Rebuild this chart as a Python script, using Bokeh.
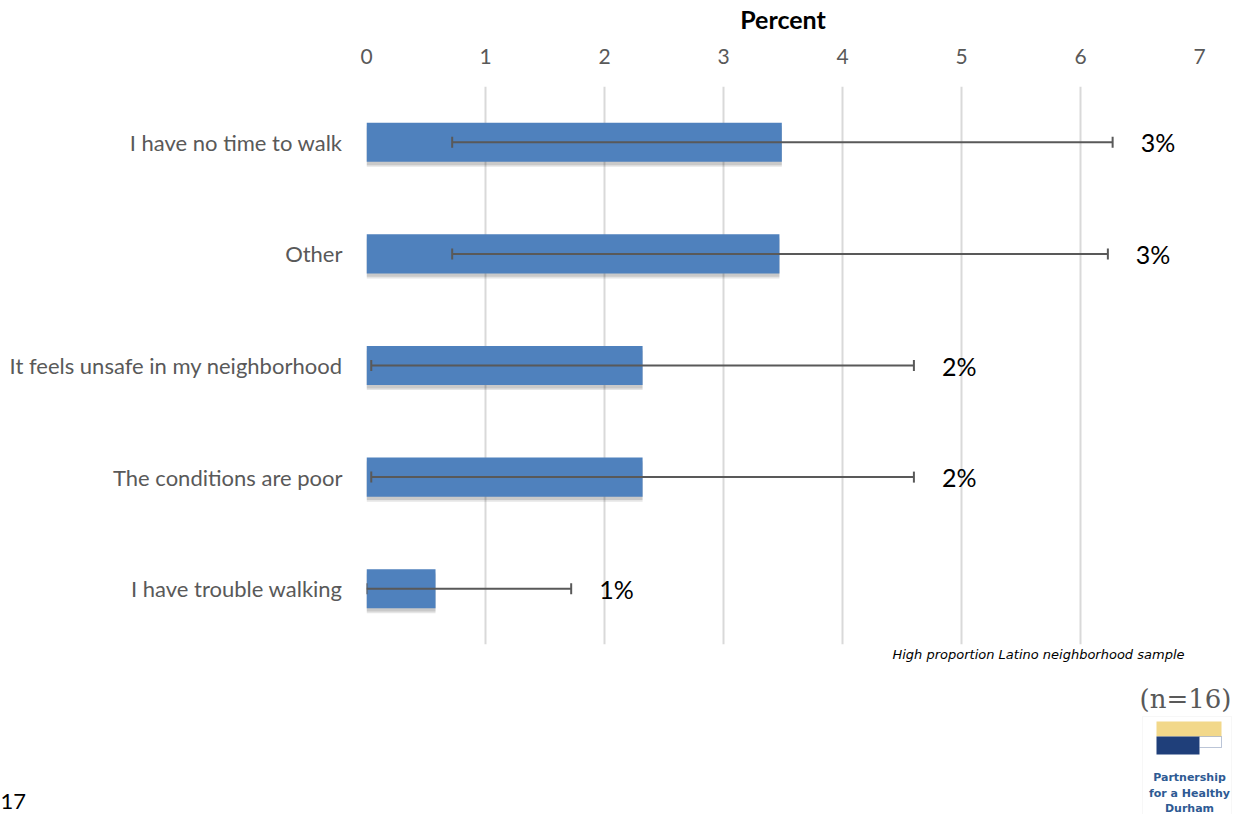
from bokeh.plotting import figure
from bokeh.models import (ColumnDataSource, FactorRange, Range1d, Whisker, TeeHead,
                          Label, BoxAnnotation, FixedTicker)
from bokeh.transform import dodge
from bokeh.core.properties import value
from bokeh.embed import file_html
from bokeh.resources import INLINE

categories = ["I have no time to walk", "Other", "It feels unsafe in my neighborhood",
              "The conditions are poor", "I have trouble walking"]
percent = [3.49, 3.47, 2.32, 2.32, 0.58]
ci_lower = [0.72, 0.72, 0.04, 0.04, 0.0]
ci_upper = [6.27, 6.23, 4.60, 4.60, 1.72]
pct_labels = ["3%", "3%", "2%", "2%", "1%"]
x_ticks = [0, 1, 2, 3, 4, 5, 6, 7]

FONT = "Lato"
GRAY = "#595959"

src = ColumnDataSource(dict(cat=categories, val=percent, lo=ci_lower, hi=ci_upper, lab=pct_labels))

p = figure(width=1232, height=646, output_backend="svg", toolbar_location=None,
           y_range=FactorRange(factors=list(reversed(categories))),
           x_range=Range1d(0, 7), x_axis_location="above",
           min_border_left=366, min_border_right=33, min_border_top=84, min_border_bottom=2)
p.outline_line_color = None
p.background_fill_color = "white"
p.border_fill_color = "white"

# shadow
for dy, a in [(-0.045, 0.10), (-0.03, 0.12)]:
    p.hbar(y=dodge("cat", dy, range=p.y_range), left=0, right="val", height=0.35, source=src,
           fill_color="#000000", fill_alpha=a, line_color=None)
p.hbar(y="cat", left=0, right="val", height=0.35, source=src,
       fill_color="#4F81BD", line_color=None)

w = Whisker(base="cat", lower="lo", upper="hi", dimension="width", source=src,
            line_color=GRAY, line_width=2, level="overlay",
            upper_head=TeeHead(size=11, line_color=GRAY, line_width=2),
            lower_head=TeeHead(size=11, line_color=GRAY, line_width=2))
p.add_layout(w)

p.text(x="hi", y="cat", text="lab", source=src, x_offset=28, text_baseline="middle",
       text_align="left", text_font=value(FONT), text_font_size="25px", text_color="#000000")

# axes
xa = p.xaxis[0]
xa.ticker = FixedTicker(ticks=x_ticks)
xa.axis_label = "Percent"
xa.axis_label_text_font = FONT
xa.axis_label_text_font_style = "bold"
xa.axis_label_text_font_size = "25px"
xa.axis_label_text_color = "#000000"
xa.axis_label_standoff = 12
xa.major_label_text_font = FONT
xa.major_label_text_font_size = "21px"
xa.major_label_text_color = GRAY
xa.major_label_standoff = 23
xa.axis_line_color = None
xa.major_tick_line_color = None
xa.minor_tick_line_color = None
xa.major_tick_out = 0
xa.major_tick_in = 0

ya = p.yaxis[0]
ya.major_label_text_font = FONT
ya.major_label_text_font_size = "22px"
ya.major_label_text_color = GRAY
ya.major_label_standoff = 24
ya.axis_line_color = None
ya.major_tick_line_color = None
ya.minor_tick_line_color = None
ya.major_tick_out = 0
ya.major_tick_in = 0

p.ygrid.grid_line_color = None
p.xgrid.grid_line_color = "#D9D9D9"
p.xgrid.grid_line_width = 2

# footer panel (separate root): notes, sample size, logo, page number
f = figure(width=1232, height=168, output_backend="svg", toolbar_location=None,
           x_range=Range1d(0, 1232), y_range=Range1d(0, 168),
           x_axis_location=None, y_axis_location=None,
           min_border_left=0, min_border_right=0, min_border_top=0, min_border_bottom=0)
f.outline_line_color = None
f.xgrid.grid_line_color = None
f.ygrid.grid_line_color = None
f.background_fill_color = "white"
f.border_fill_color = "white"

def lbl(x, y, text, **kw):
    f.add_layout(Label(x=x, y=y, text=text, text_baseline="middle", **kw))

lbl(1184, 160, "High proportion Latino neighborhood sample", text_align="right",
    text_font="DejaVu Sans", text_font_style="italic", text_font_size="13px", text_color="#000000")
lbl(1231, 116, "(n=16)", text_align="right", text_font="DejaVu Serif",
    text_font_size="26px", text_color=GRAY)
f.add_layout(BoxAnnotation(left=1142, right=1231, top=98, bottom=0, fill_alpha=0,
                           line_color="#E6E6E6", line_width=1))
f.add_layout(BoxAnnotation(left=1156, right=1221, top=93, bottom=78,
                           fill_color="#F2D88A", fill_alpha=1, line_color=None))
f.add_layout(BoxAnnotation(left=1156, right=1199, top=78, bottom=60,
                           fill_color="#1F3F7A", fill_alpha=1, line_color=None))
f.add_layout(BoxAnnotation(left=1199, right=1221, top=78, bottom=67,
                           fill_color="white", fill_alpha=1, line_color="#1F3F7A", line_width=1))
for yy, t in [(37, "Partnership"), (21, "for a Healthy"), (6, "Durham")]:
    lbl(1189, yy, t, text_align="center", text_font="DejaVu Sans", text_font_style="bold",
        text_font_size="11px", text_color="#2E5A93")
lbl(0, 13, "17", text_align="left", text_font=FONT, text_font_size="22px",
    text_color="#000000")

open("out.html", "w").write(file_html([p, f], INLINE))
